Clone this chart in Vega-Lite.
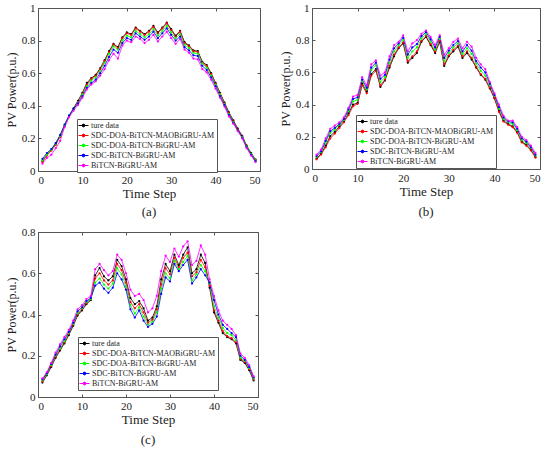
{
  "$schema": "https://vega.github.io/schema/vega-lite/v6.json",
  "padding": {"left": 4, "top": 1, "right": 0, "bottom": 0},
  "background": "white",
  "datasets": {
    "names": [
      {"key": "s0", "name": "ture data"},
      {"key": "s1", "name": "SDC-DOA-BiTCN-MAOBiGRU-AM"},
      {"key": "s2", "name": "SDC-DOA-BiTCN-BiGRU-AM"},
      {"key": "s3", "name": "SDC-BiTCN-BiGRU-AM"},
      {"key": "s4", "name": "BiTCN-BiGRU-AM"}
    ],
    "a": [
      {"t":1,"s0":0.06,"s1":0.055,"s2":0.065,"s3":0.075,"s4":0.045},
      {"t":2,"s0":0.10,"s1":0.095,"s2":0.10,"s3":0.11,"s4":0.08},
      {"t":3,"s0":0.13,"s1":0.125,"s2":0.13,"s3":0.135,"s4":0.10},
      {"t":4,"s0":0.17,"s1":0.16,"s2":0.165,"s3":0.17,"s4":0.14},
      {"t":5,"s0":0.22,"s1":0.21,"s2":0.215,"s3":0.22,"s4":0.185},
      {"t":6,"s0":0.28,"s1":0.275,"s2":0.28,"s3":0.285,"s4":0.27},
      {"t":7,"s0":0.34,"s1":0.335,"s2":0.34,"s3":0.34,"s4":0.33},
      {"t":8,"s0":0.385,"s1":0.38,"s2":0.38,"s3":0.38,"s4":0.37},
      {"t":9,"s0":0.43,"s1":0.425,"s2":0.42,"s3":0.415,"s4":0.405},
      {"t":10,"s0":0.48,"s1":0.475,"s2":0.47,"s3":0.46,"s4":0.45},
      {"t":11,"s0":0.54,"s1":0.53,"s2":0.52,"s3":0.51,"s4":0.50},
      {"t":12,"s0":0.57,"s1":0.565,"s2":0.555,"s3":0.54,"s4":0.53},
      {"t":13,"s0":0.59,"s1":0.585,"s2":0.575,"s3":0.56,"s4":0.55},
      {"t":14,"s0":0.63,"s1":0.625,"s2":0.615,"s3":0.60,"s4":0.585},
      {"t":15,"s0":0.68,"s1":0.675,"s2":0.665,"s3":0.645,"s4":0.625},
      {"t":16,"s0":0.735,"s1":0.73,"s2":0.72,"s3":0.70,"s4":0.68},
      {"t":17,"s0":0.78,"s1":0.775,"s2":0.765,"s3":0.745,"s4":0.72},
      {"t":18,"s0":0.76,"s1":0.755,"s2":0.745,"s3":0.725,"s4":0.69},
      {"t":19,"s0":0.82,"s1":0.815,"s2":0.80,"s3":0.785,"s4":0.77},
      {"t":20,"s0":0.85,"s1":0.845,"s2":0.83,"s3":0.815,"s4":0.80},
      {"t":21,"s0":0.84,"s1":0.835,"s2":0.82,"s3":0.805,"s4":0.79},
      {"t":22,"s0":0.88,"s1":0.875,"s2":0.86,"s3":0.845,"s4":0.825},
      {"t":23,"s0":0.86,"s1":0.855,"s2":0.84,"s3":0.825,"s4":0.81},
      {"t":24,"s0":0.84,"s1":0.835,"s2":0.82,"s3":0.805,"s4":0.785},
      {"t":25,"s0":0.86,"s1":0.855,"s2":0.84,"s3":0.825,"s4":0.805},
      {"t":26,"s0":0.89,"s1":0.885,"s2":0.87,"s3":0.855,"s4":0.835},
      {"t":27,"s0":0.85,"s1":0.845,"s2":0.83,"s3":0.815,"s4":0.795},
      {"t":28,"s0":0.88,"s1":0.875,"s2":0.86,"s3":0.845,"s4":0.825},
      {"t":29,"s0":0.91,"s1":0.905,"s2":0.89,"s3":0.875,"s4":0.855},
      {"t":30,"s0":0.87,"s1":0.865,"s2":0.85,"s3":0.835,"s4":0.815},
      {"t":31,"s0":0.83,"s1":0.825,"s2":0.815,"s3":0.80,"s4":0.78},
      {"t":32,"s0":0.86,"s1":0.855,"s2":0.84,"s3":0.825,"s4":0.81},
      {"t":33,"s0":0.79,"s1":0.785,"s2":0.775,"s3":0.76,"s4":0.745},
      {"t":34,"s0":0.77,"s1":0.765,"s2":0.755,"s3":0.74,"s4":0.725},
      {"t":35,"s0":0.74,"s1":0.735,"s2":0.725,"s3":0.71,"s4":0.69},
      {"t":36,"s0":0.735,"s1":0.73,"s2":0.72,"s3":0.705,"s4":0.685},
      {"t":37,"s0":0.67,"s1":0.665,"s2":0.66,"s3":0.645,"s4":0.625},
      {"t":38,"s0":0.65,"s1":0.645,"s2":0.635,"s3":0.62,"s4":0.605},
      {"t":39,"s0":0.60,"s1":0.595,"s2":0.585,"s3":0.575,"s4":0.56},
      {"t":40,"s0":0.54,"s1":0.535,"s2":0.53,"s3":0.52,"s4":0.505},
      {"t":41,"s0":0.48,"s1":0.475,"s2":0.47,"s3":0.46,"s4":0.45},
      {"t":42,"s0":0.42,"s1":0.415,"s2":0.41,"s3":0.405,"s4":0.395},
      {"t":43,"s0":0.36,"s1":0.355,"s2":0.35,"s3":0.345,"s4":0.335},
      {"t":44,"s0":0.31,"s1":0.305,"s2":0.30,"s3":0.295,"s4":0.29},
      {"t":45,"s0":0.26,"s1":0.255,"s2":0.25,"s3":0.25,"s4":0.245},
      {"t":46,"s0":0.215,"s1":0.21,"s2":0.21,"s3":0.205,"s4":0.20},
      {"t":47,"s0":0.155,"s1":0.15,"s2":0.15,"s3":0.145,"s4":0.14},
      {"t":48,"s0":0.11,"s1":0.105,"s2":0.105,"s3":0.10,"s4":0.095},
      {"t":49,"s0":0.07,"s1":0.065,"s2":0.065,"s3":0.06,"s4":0.055}
    ],
    "b": [
      {"t":1,"s0":0.065,"s1":0.06,"s2":0.075,"s3":0.08,"s4":0.09},
      {"t":2,"s0":0.095,"s1":0.09,"s2":0.105,"s3":0.11,"s4":0.12},
      {"t":3,"s0":0.145,"s1":0.135,"s2":0.165,"s3":0.175,"s4":0.19},
      {"t":4,"s0":0.205,"s1":0.19,"s2":0.225,"s3":0.235,"s4":0.25},
      {"t":5,"s0":0.23,"s1":0.22,"s2":0.245,"s3":0.255,"s4":0.27},
      {"t":6,"s0":0.265,"s1":0.255,"s2":0.275,"s3":0.28,"s4":0.29},
      {"t":7,"s0":0.295,"s1":0.29,"s2":0.305,"s3":0.31,"s4":0.32},
      {"t":8,"s0":0.345,"s1":0.335,"s2":0.36,"s3":0.37,"s4":0.38},
      {"t":9,"s0":0.40,"s1":0.39,"s2":0.42,"s3":0.435,"s4":0.45},
      {"t":10,"s0":0.41,"s1":0.405,"s2":0.43,"s3":0.445,"s4":0.46},
      {"t":11,"s0":0.53,"s1":0.52,"s2":0.545,"s3":0.555,"s4":0.57},
      {"t":12,"s0":0.48,"s1":0.47,"s2":0.495,"s3":0.505,"s4":0.52},
      {"t":13,"s0":0.59,"s1":0.58,"s2":0.615,"s3":0.63,"s4":0.65},
      {"t":14,"s0":0.62,"s1":0.61,"s2":0.645,"s3":0.66,"s4":0.675},
      {"t":15,"s0":0.51,"s1":0.52,"s2":0.54,"s3":0.56,"s4":0.58},
      {"t":16,"s0":0.55,"s1":0.555,"s2":0.57,"s3":0.585,"s4":0.60},
      {"t":17,"s0":0.63,"s1":0.64,"s2":0.66,"s3":0.68,"s4":0.70},
      {"t":18,"s0":0.70,"s1":0.71,"s2":0.73,"s3":0.75,"s4":0.77},
      {"t":19,"s0":0.75,"s1":0.755,"s2":0.77,"s3":0.78,"s4":0.79},
      {"t":20,"s0":0.78,"s1":0.785,"s2":0.80,"s3":0.815,"s4":0.83},
      {"t":21,"s0":0.66,"s1":0.67,"s2":0.69,"s3":0.71,"s4":0.73},
      {"t":22,"s0":0.69,"s1":0.70,"s2":0.73,"s3":0.755,"s4":0.78},
      {"t":23,"s0":0.72,"s1":0.73,"s2":0.755,"s3":0.775,"s4":0.80},
      {"t":24,"s0":0.79,"s1":0.795,"s2":0.81,"s3":0.825,"s4":0.84},
      {"t":25,"s0":0.82,"s1":0.825,"s2":0.84,"s3":0.85,"s4":0.86},
      {"t":26,"s0":0.77,"s1":0.775,"s2":0.79,"s3":0.805,"s4":0.82},
      {"t":27,"s0":0.72,"s1":0.73,"s2":0.74,"s3":0.755,"s4":0.77},
      {"t":28,"s0":0.79,"s1":0.795,"s2":0.81,"s3":0.82,"s4":0.83},
      {"t":29,"s0":0.64,"s1":0.65,"s2":0.67,"s3":0.69,"s4":0.71},
      {"t":30,"s0":0.70,"s1":0.705,"s2":0.72,"s3":0.735,"s4":0.75},
      {"t":31,"s0":0.73,"s1":0.74,"s2":0.755,"s3":0.77,"s4":0.79},
      {"t":32,"s0":0.76,"s1":0.765,"s2":0.78,"s3":0.795,"s4":0.81},
      {"t":33,"s0":0.69,"s1":0.70,"s2":0.715,"s3":0.73,"s4":0.75},
      {"t":34,"s0":0.72,"s1":0.73,"s2":0.75,"s3":0.77,"s4":0.79},
      {"t":35,"s0":0.68,"s1":0.69,"s2":0.715,"s3":0.735,"s4":0.76},
      {"t":36,"s0":0.63,"s1":0.635,"s2":0.655,"s3":0.67,"s4":0.69},
      {"t":37,"s0":0.585,"s1":0.59,"s2":0.61,"s3":0.63,"s4":0.65},
      {"t":38,"s0":0.555,"s1":0.56,"s2":0.58,"s3":0.60,"s4":0.62},
      {"t":39,"s0":0.50,"s1":0.505,"s2":0.52,"s3":0.53,"s4":0.54},
      {"t":40,"s0":0.44,"s1":0.44,"s2":0.455,"s3":0.46,"s4":0.47},
      {"t":41,"s0":0.36,"s1":0.355,"s2":0.375,"s3":0.385,"s4":0.40},
      {"t":42,"s0":0.30,"s1":0.295,"s2":0.31,"s3":0.32,"s4":0.33},
      {"t":43,"s0":0.28,"s1":0.275,"s2":0.29,"s3":0.295,"s4":0.30},
      {"t":44,"s0":0.265,"s1":0.26,"s2":0.28,"s3":0.29,"s4":0.30},
      {"t":45,"s0":0.23,"s1":0.225,"s2":0.24,"s3":0.25,"s4":0.26},
      {"t":46,"s0":0.17,"s1":0.165,"s2":0.18,"s3":0.19,"s4":0.20},
      {"t":47,"s0":0.15,"s1":0.145,"s2":0.16,"s3":0.17,"s4":0.18},
      {"t":48,"s0":0.12,"s1":0.115,"s2":0.13,"s3":0.135,"s4":0.145},
      {"t":49,"s0":0.075,"s1":0.07,"s2":0.085,"s3":0.09,"s4":0.10}
    ],
    "c": [
      {"t":1,"s0":0.07,"s1":0.075,"s2":0.08,"s3":0.085,"s4":0.09},
      {"t":2,"s0":0.105,"s1":0.11,"s2":0.11,"s3":0.115,"s4":0.12},
      {"t":3,"s0":0.145,"s1":0.15,"s2":0.155,"s3":0.16,"s4":0.165},
      {"t":4,"s0":0.19,"s1":0.195,"s2":0.20,"s3":0.205,"s4":0.215},
      {"t":5,"s0":0.225,"s1":0.23,"s2":0.235,"s3":0.245,"s4":0.255},
      {"t":6,"s0":0.26,"s1":0.265,"s2":0.27,"s3":0.28,"s4":0.29},
      {"t":7,"s0":0.30,"s1":0.305,"s2":0.31,"s3":0.315,"s4":0.325},
      {"t":8,"s0":0.345,"s1":0.35,"s2":0.355,"s3":0.36,"s4":0.37},
      {"t":9,"s0":0.395,"s1":0.40,"s2":0.405,"s3":0.415,"s4":0.425},
      {"t":10,"s0":0.42,"s1":0.425,"s2":0.43,"s3":0.435,"s4":0.445},
      {"t":11,"s0":0.45,"s1":0.455,"s2":0.46,"s3":0.465,"s4":0.475},
      {"t":12,"s0":0.47,"s1":0.475,"s2":0.475,"s3":0.48,"s4":0.49},
      {"t":13,"s0":0.59,"s1":0.575,"s2":0.555,"s3":0.54,"s4":0.62},
      {"t":14,"s0":0.625,"s1":0.60,"s2":0.575,"s3":0.555,"s4":0.645},
      {"t":15,"s0":0.585,"s1":0.565,"s2":0.545,"s3":0.525,"s4":0.615},
      {"t":16,"s0":0.565,"s1":0.545,"s2":0.525,"s3":0.505,"s4":0.59},
      {"t":17,"s0":0.585,"s1":0.565,"s2":0.55,"s3":0.53,"s4":0.61},
      {"t":18,"s0":0.665,"s1":0.645,"s2":0.625,"s3":0.60,"s4":0.69},
      {"t":19,"s0":0.635,"s1":0.615,"s2":0.595,"s3":0.57,"s4":0.665},
      {"t":20,"s0":0.57,"s1":0.555,"s2":0.535,"s3":0.52,"s4":0.60},
      {"t":21,"s0":0.48,"s1":0.46,"s2":0.445,"s3":0.425,"s4":0.52},
      {"t":22,"s0":0.45,"s1":0.43,"s2":0.405,"s3":0.385,"s4":0.49},
      {"t":23,"s0":0.465,"s1":0.45,"s2":0.435,"s3":0.42,"s4":0.50},
      {"t":24,"s0":0.43,"s1":0.41,"s2":0.39,"s3":0.37,"s4":0.47},
      {"t":25,"s0":0.37,"s1":0.36,"s2":0.35,"s3":0.34,"s4":0.41},
      {"t":26,"s0":0.385,"s1":0.375,"s2":0.365,"s3":0.355,"s4":0.43},
      {"t":27,"s0":0.44,"s1":0.425,"s2":0.41,"s3":0.39,"s4":0.49},
      {"t":28,"s0":0.57,"s1":0.545,"s2":0.525,"s3":0.50,"s4":0.61},
      {"t":29,"s0":0.645,"s1":0.625,"s2":0.60,"s3":0.58,"s4":0.685},
      {"t":30,"s0":0.61,"s1":0.595,"s2":0.575,"s3":0.56,"s4":0.655},
      {"t":31,"s0":0.69,"s1":0.675,"s2":0.66,"s3":0.645,"s4":0.72},
      {"t":32,"s0":0.64,"s1":0.63,"s2":0.62,"s3":0.61,"s4":0.68},
      {"t":33,"s0":0.69,"s1":0.675,"s2":0.655,"s3":0.64,"s4":0.73},
      {"t":34,"s0":0.725,"s1":0.70,"s2":0.685,"s3":0.665,"s4":0.755},
      {"t":35,"s0":0.60,"s1":0.585,"s2":0.565,"s3":0.55,"s4":0.64},
      {"t":36,"s0":0.62,"s1":0.605,"s2":0.595,"s3":0.58,"s4":0.66},
      {"t":37,"s0":0.69,"s1":0.665,"s2":0.64,"s3":0.62,"s4":0.735},
      {"t":38,"s0":0.65,"s1":0.63,"s2":0.61,"s3":0.59,"s4":0.69},
      {"t":39,"s0":0.53,"s1":0.54,"s2":0.55,"s3":0.555,"s4":0.57},
      {"t":40,"s0":0.41,"s1":0.42,"s2":0.44,"s3":0.47,"s4":0.49},
      {"t":41,"s0":0.36,"s1":0.37,"s2":0.385,"s3":0.40,"s4":0.42},
      {"t":42,"s0":0.31,"s1":0.32,"s2":0.335,"s3":0.35,"s4":0.37},
      {"t":43,"s0":0.29,"s1":0.295,"s2":0.31,"s3":0.33,"s4":0.35},
      {"t":44,"s0":0.28,"s1":0.285,"s2":0.30,"s3":0.31,"s4":0.33},
      {"t":45,"s0":0.26,"s1":0.265,"s2":0.275,"s3":0.29,"s4":0.30},
      {"t":46,"s0":0.18,"s1":0.185,"s2":0.19,"s3":0.20,"s4":0.21},
      {"t":47,"s0":0.165,"s1":0.17,"s2":0.175,"s3":0.18,"s4":0.19},
      {"t":48,"s0":0.13,"s1":0.135,"s2":0.14,"s3":0.145,"s4":0.155},
      {"t":49,"s0":0.08,"s1":0.085,"s2":0.09,"s3":0.095,"s4":0.10}
    ]
  },
  "vconcat": [
    {
      "hconcat": [
        {
          "width": 222,
          "height": 163,
          "data": {"name": "a"},
          "transform": [
            {"fold": ["s0", "s1", "s2", "s3", "s4"], "as": ["key", "value"]},
            {"lookup": "key", "from": {"data": {"name": "names"}, "key": "key", "fields": ["name"]}}
          ],
          "title": {"text": "(a)", "orient": "bottom", "offset": 6},
          "layer": [
            {
              "mark": {"type": "line", "strokeWidth": 0.8, "point": {"filled": true, "size": 5}},
              "encoding": {
                "x": {"field": "t", "type": "quantitative", "scale": {"domain": [0, 50]}, "axis": {"title": "Time Step", "titleFontWeight": "normal", "values": [0, 10, 20, 30, 40, 50]}},
                "y": {"field": "value", "type": "quantitative", "scale": {"domain": [0, 1]}, "axis": {"title": "PV Power(p.u.)", "titleFontWeight": "normal", "values": [0, 0.2, 0.4, 0.6, 0.8, 1], "format": "~g"}},
                "color": {
                  "field": "name", "type": "nominal",
                  "scale": {"domain": ["ture data", "SDC-DOA-BiTCN-MAOBiGRU-AM", "SDC-DOA-BiTCN-BiGRU-AM", "SDC-BiTCN-BiGRU-AM", "BiTCN-BiGRU-AM"], "range": ["#000000", "#ff0000", "#00ff00", "#0000ff", "#ff00ff"]},
                  "legend": {"orient": "none", "legendX": 39, "legendY": 111}
                },
                "order": {"field": "t"}
              }
            },
            {
              "mark": {"type": "point", "opacity": 0},
              "encoding": {
                "x": {"field": "t", "type": "quantitative", "scale": {"domain": [0, 50]}, "axis": {"orient": "top", "title": null, "labels": false, "values": [0, 10, 20, 30, 40, 50]}},
                "y": {"field": "value", "type": "quantitative", "scale": {"domain": [0, 1]}, "axis": {"orient": "right", "title": null, "labels": false, "values": [0, 0.2, 0.4, 0.6, 0.8, 1]}}
              }
            }
          ],
          "resolve": {"axis": {"x": "independent", "y": "independent"}}
        },
        {
          "width": 228,
          "height": 161,
          "data": {"name": "b"},
          "transform": [
            {"fold": ["s0", "s1", "s2", "s3", "s4"], "as": ["key", "value"]},
            {"lookup": "key", "from": {"data": {"name": "names"}, "key": "key", "fields": ["name"]}}
          ],
          "title": {"text": "(b)", "orient": "bottom", "offset": 8},
          "layer": [
            {
              "mark": {"type": "line", "strokeWidth": 0.8, "point": {"filled": true, "size": 5}},
              "encoding": {
                "x": {"field": "t", "type": "quantitative", "scale": {"domain": [0, 50]}, "axis": {"title": "Time Step", "titleFontWeight": "normal", "values": [0, 10, 20, 30, 40, 50]}},
                "y": {"field": "value", "type": "quantitative", "scale": {"domain": [0, 1]}, "axis": {"title": "PV Power(p.u.)", "titleFontWeight": "normal", "values": [0, 0.2, 0.4, 0.6, 0.8, 1], "format": "~g"}},
                "color": {
                  "field": "name", "type": "nominal",
                  "scale": {"domain": ["ture data", "SDC-DOA-BiTCN-MAOBiGRU-AM", "SDC-DOA-BiTCN-BiGRU-AM", "SDC-BiTCN-BiGRU-AM", "BiTCN-BiGRU-AM"], "range": ["#000000", "#ff0000", "#00ff00", "#0000ff", "#ff00ff"]},
                  "legend": {"orient": "none", "legendX": 44, "legendY": 107}
                },
                "order": {"field": "t"}
              }
            },
            {
              "mark": {"type": "point", "opacity": 0},
              "encoding": {
                "x": {"field": "t", "type": "quantitative", "scale": {"domain": [0, 50]}, "axis": {"orient": "top", "title": null, "labels": false, "values": [0, 10, 20, 30, 40, 50]}},
                "y": {"field": "value", "type": "quantitative", "scale": {"domain": [0, 1]}, "axis": {"orient": "right", "title": null, "labels": false, "values": [0, 0.2, 0.4, 0.6, 0.8, 1]}}
              }
            }
          ],
          "resolve": {"axis": {"x": "independent", "y": "independent"}}
        }
      ],
      "spacing": 17,
      "resolve": {"scale": {"color": "independent"}, "legend": {"color": "independent"}}
    },
    {
      "width": 220,
      "height": 165,
      "data": {"name": "c"},
      "transform": [
        {"fold": ["s0", "s1", "s2", "s3", "s4"], "as": ["key", "value"]},
        {"lookup": "key", "from": {"data": {"name": "names"}, "key": "key", "fields": ["name"]}}
      ],
      "title": {"text": "(c)", "orient": "bottom", "offset": 8},
      "layer": [
        {
          "mark": {"type": "line", "strokeWidth": 0.8, "point": {"filled": true, "size": 5}},
          "encoding": {
            "x": {"field": "t", "type": "quantitative", "scale": {"domain": [0, 50]}, "axis": {"title": "Time Step", "titleFontWeight": "normal", "values": [0, 10, 20, 30, 40, 50]}},
            "y": {"field": "value", "type": "quantitative", "scale": {"domain": [0, 0.8]}, "axis": {"title": "PV Power(p.u.)", "titleFontWeight": "normal", "values": [0, 0.2, 0.4, 0.6, 0.8], "format": "~g"}},
            "color": {
              "field": "name", "type": "nominal",
              "scale": {"domain": ["ture data", "SDC-DOA-BiTCN-MAOBiGRU-AM", "SDC-DOA-BiTCN-BiGRU-AM", "SDC-BiTCN-BiGRU-AM", "BiTCN-BiGRU-AM"], "range": ["#000000", "#ff0000", "#00ff00", "#0000ff", "#ff00ff"]},
              "legend": {"orient": "none", "legendX": 40, "legendY": 105}
            },
            "order": {"field": "t"}
          }
        },
        {
          "mark": {"type": "point", "opacity": 0},
          "encoding": {
            "x": {"field": "t", "type": "quantitative", "scale": {"domain": [0, 50]}, "axis": {"orient": "top", "title": null, "labels": false, "values": [0, 10, 20, 30, 40, 50]}},
            "y": {"field": "value", "type": "quantitative", "scale": {"domain": [0, 0.8]}, "axis": {"orient": "right", "title": null, "labels": false, "values": [0, 0.2, 0.4, 0.6, 0.8]}}
          }
        }
      ],
      "resolve": {"axis": {"x": "independent", "y": "independent"}}
    }
  ],
  "spacing": 5,
  "resolve": {"scale": {"color": "independent"}, "legend": {"color": "independent"}},
  "config": {
    "font": "Liberation Serif",
    "view": {"stroke": "#555555", "strokeWidth": 1},
    "axis": {
      "grid": false,
      "domain": false,
      "tickSize": -3,
      "tickColor": "#555555",
      "labelPadding": 6,
      "labelFont": "Liberation Serif",
      "labelFontSize": 11,
      "labelColor": "#222222",
      "titleFont": "Liberation Serif",
      "titleFontSize": 13,
      "titleFontWeight": "normal",
      "titleColor": "#222222",
      "titlePadding": 2
    },
    "axisY": {"titleFontSize": 12, "titlePadding": 3},
    "title": {"font": "Liberation Serif", "fontSize": 13, "fontWeight": "normal", "color": "#222222"},
    "legend": {
      "title": null,
      "labelFont": "Liberation Serif",
      "labelFontSize": 8,
      "labelColor": "#222222",
      "labelOffset": 3,
      "strokeColor": "#555555",
      "fillColor": "white",
      "padding": 2,
      "rowPadding": 1,
      "symbolType": "M-1.25,0L1.25,0M-0.35,0A0.35,0.35 0 1,0 0.35,0A0.35,0.35 0 1,0 -0.35,0Z",
      "symbolSize": 64,
      "symbolStrokeWidth": 1
    }
  }
}
